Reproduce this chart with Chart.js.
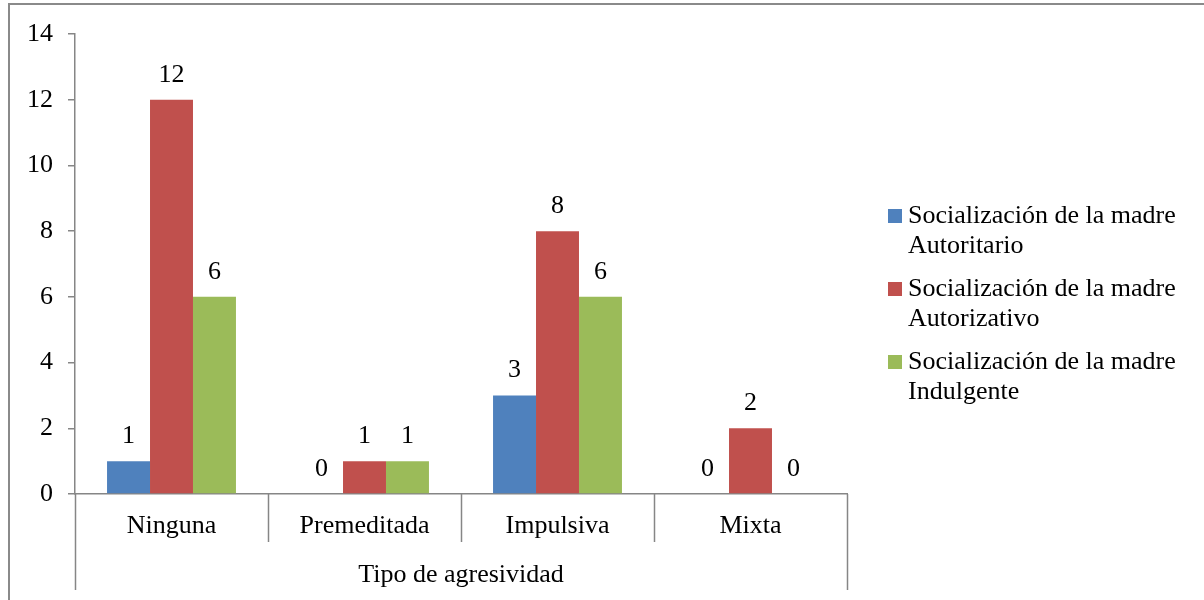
<!DOCTYPE html>
<html>
<head>
<meta charset="utf-8">
<script src="https://cdn.jsdelivr.net/npm/chart.js@4"></script>
<style>
  html, body { margin: 0; padding: 0; background: #fff; }
  #wrap { width: 1204px; height: 600px; position: relative; }
</style>
</head>
<body>
<div id="wrap"><canvas id="chart" width="1204" height="600"></canvas></div>
<script>
// categories and series
const categories = ["Ninguna", "Premeditada", "Impulsiva", "Mixta"];
const axisTitle = "Tipo de agresividad";
const autoritario = [1, 0, 3, 0];
const autorizativo = [12, 1, 8, 2];
const indulgente = [6, 1, 6, 0];
const seriesNames = [
  ["Socialización de la madre", "Autoritario"],
  ["Socialización de la madre", "Autorizativo"],
  ["Socialización de la madre", "Indulgente"],
];
const yTicks = [0, 2, 4, 6, 8, 10, 12, 14];

const FONT = '"Liberation Serif", "Times New Roman", serif';
const SIZE = 26;
const AXIS = "#868686";

// frame, category separators, value labels and legend
const extras = {
  id: "extras",
  afterDraw(chart) {
    const ctx = chart.ctx;
    const area = chart.chartArea;
    ctx.save();

    // outer frame (only top & left visible in the crop)
    ctx.strokeStyle = "#8a8a8a";
    ctx.lineWidth = 2;
    ctx.beginPath();
    ctx.moveTo(9, 700);
    ctx.lineTo(9, 4);
    ctx.lineTo(1300, 4);
    ctx.stroke();

    // category separators below the axis
    ctx.strokeStyle = AXIS;
    ctx.lineWidth = 1.5;
    const n = categories.length;
    const step = (area.right - area.left) / n;
    for (let i = 0; i <= n; i++) {
      const px = Math.round(area.left + i * step) + 0.5;
      ctx.beginPath();
      ctx.moveTo(px, area.bottom);
      ctx.lineTo(px, (i === 0 || i === n) ? area.bottom + 96 : area.bottom + 48);
      ctx.stroke();
    }

    // value labels
    ctx.fillStyle = "#000";
    ctx.font = SIZE + "px " + FONT;
    ctx.textAlign = "center";
    ctx.textBaseline = "alphabetic";
    chart.data.datasets.forEach((ds, di) => {
      const meta = chart.getDatasetMeta(di);
      meta.data.forEach((bar, j) => {
        ctx.fillText(String(ds.data[j]), bar.x, bar.y - 18);
      });
    });

    // legend
    ctx.textAlign = "left";
    ctx.textBaseline = "middle";
    const lx = 888, ly = 216;
    chart.data.datasets.forEach((ds, di) => {
      const y0 = ly + di * 73;
      ctx.fillStyle = ds.backgroundColor;
      ctx.fillRect(lx, y0 - 7, 14, 14);
      ctx.fillStyle = "#000";
      seriesNames[di].forEach((line, k) => {
        ctx.fillText(line, lx + 20, y0 + k * 30);
      });
    });
    ctx.restore();
  }
};

new Chart(document.getElementById("chart"), {
  type: "bar",
  data: {
    labels: categories,
    datasets: [
      { label: seriesNames[0].join(" "), data: autoritario, backgroundColor: "#4F81BD" },
      { label: seriesNames[1].join(" "), data: autorizativo, backgroundColor: "#C0504D" },
      { label: seriesNames[2].join(" "), data: indulgente, backgroundColor: "#9BBB59" },
    ],
  },
  options: {
    responsive: false,
    animation: false,
    events: [],
    layout: { padding: { left: 10, right: 357, top: 34, bottom: 0 } },
    datasets: { bar: { categoryPercentage: 0.668, barPercentage: 1.0 } },
    plugins: {
      legend: { display: false },
      tooltip: { enabled: false },
    },
    scales: {
      x: {
        grid: { display: false },
        border: { display: true, color: AXIS, width: 1.5 },
        ticks: { color: "#000", font: { family: FONT, size: SIZE }, padding: 9, maxRotation: 0 },
        title: { display: true, text: axisTitle, color: "#000", font: { family: FONT, size: SIZE }, padding: { top: 0, bottom: 9 } },
        afterFit(scale) { scale.height = 106; },
      },
      y: {
        min: 0,
        max: 14,
        afterBuildTicks(scale) { scale.ticks = yTicks.map(v => ({ value: v })); },
        grid: { drawOnChartArea: false, drawTicks: true, tickLength: 7, color: AXIS, lineWidth: 1.5 },
        border: { display: true, color: AXIS, width: 1.5 },
        ticks: { color: "#000", font: { family: FONT, size: SIZE }, padding: 15 },
        afterFit(scale) { scale.width = 65; },
      },
    },
  },
  plugins: [extras],
});
</script>
</body>
</html>
